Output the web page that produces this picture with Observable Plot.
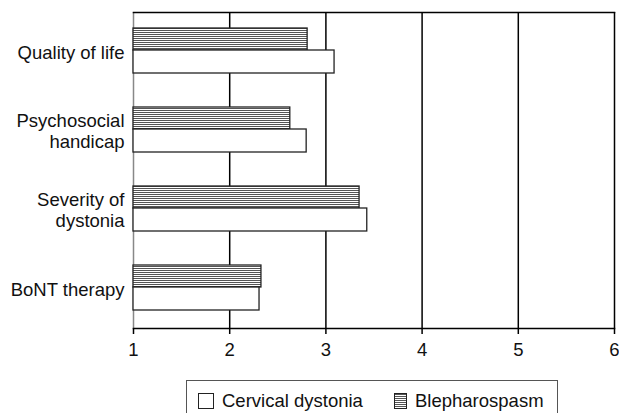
<!DOCTYPE html>
<html>
<head>
<meta charset="utf-8">
<script src="https://cdn.jsdelivr.net/npm/d3@7"></script>
<script src="https://cdn.jsdelivr.net/npm/@observablehq/plot@0.6"></script>
<style>
  html, body { margin: 0; padding: 0; background: #fff; overflow: hidden; }
  body { width: 619px; height: 413px; font-family: "Liberation Sans", Arial, sans-serif; }
  #legend {
    position: relative; margin-left: 186px; margin-top: 10px; width: 370px; height: 50px;
    border: 1.5px solid #555; border-bottom: none; font-size: 18.5px; color: #111;
  }
  .item { position: absolute; top: 9px; display: flex; align-items: center; }
  .sw { display: inline-block; width: 14px; height: 14px; border: 1px solid #222; margin-right: 8px; }
</style>
</head>
<body>
<div id="chart"></div>
<div id="legend"></div>
<script>
const categories = ["Quality of life", "Psychosocial\nhandicap", "Severity of\ndystonia", "BoNT therapy"];
const cervical = [3.09, 2.80, 3.43, 2.31];
const blepharospasm = [2.81, 2.63, 3.35, 2.33];
const seriesNames = ["Cervical dystonia", "Blepharospasm"];
const xTicks = [1, 2, 3, 4, 5, 6];

const cervData = categories.map((c, i) => ({category: c, value: cervical[i]}));
const blephData = categories.map((c, i) => ({category: c, value: blepharospasm[i]}));

const chart = Plot.plot({
  width: 619,
  height: 370,
  marginTop: 12,
  marginBottom: 42,
  marginLeft: 133,
  marginRight: 5,
  style: {fontSize: "18.5px", fontFamily: "'Liberation Sans', Arial, sans-serif", color: "#111", background: "white"},
  x: {domain: [xTicks[0], xTicks[xTicks.length - 1]]},
  y: {type: "band", domain: categories, padding: 0},
  marks: [
    Plot.ruleX(xTicks.slice(1), {stroke: "#000", strokeWidth: 1.5}),
    Plot.ruleX([xTicks[0]], {stroke: "#888", strokeWidth: 1.5}),
    Plot.frame({anchor: "top", stroke: "#000", strokeWidth: 1.5}),
    Plot.frame({anchor: "bottom", stroke: "#000", strokeWidth: 1.5}),
    Plot.barX(blephData, {x1: () => xTicks[0], x2: "value", y: "category", fill: "url(#hatch)", stroke: "#222", strokeWidth: 1.3, insetTop: 16, insetBottom: 41}),
    Plot.barX(cervData, {x1: () => xTicks[0], x2: "value", y: "category", fill: "white", stroke: "#222", strokeWidth: 1.3, insetTop: 38, insetBottom: 18}),
    Plot.axisX({ticks: xTicks, tickFormat: d => String(d), tickSize: 6, tickPadding: 8, strokeWidth: 1.5, stroke: "#000", label: null}),
    Plot.axisY({tickSize: 0, tickPadding: 9, lineHeight: 1.15, label: null})
  ]
});

const svg = d3.select(chart);
const defs = svg.insert("defs", ":first-child");
const pat = defs.append("pattern").attr("id", "hatch").attr("patternUnits", "userSpaceOnUse")
  .attr("width", 6).attr("height", 2);
pat.append("rect").attr("width", 6).attr("height", 2).attr("fill", "white");
pat.append("line").attr("x1", 0).attr("x2", 6).attr("y1", 0.5).attr("y2", 0.5).attr("stroke", "#555").attr("stroke-width", 1);

document.getElementById("chart").appendChild(chart);

const legend = d3.select("#legend");
const lefts = [11, 207];
seriesNames.forEach((name, i) => {
  const it = legend.append("div").attr("class", "item").style("left", lefts[i] + "px");
  const sw = it.append("span").attr("class", "sw");
  if (i === 1) {
    sw.style("width", "11px").style("background", "repeating-linear-gradient(to bottom, #555 0px, #555 1px, #fff 1px, #fff 2px)");
  } else {
    sw.style("background", "#fff");
  }
  it.append("span").text(name);
});
</script>
</body>
</html>
